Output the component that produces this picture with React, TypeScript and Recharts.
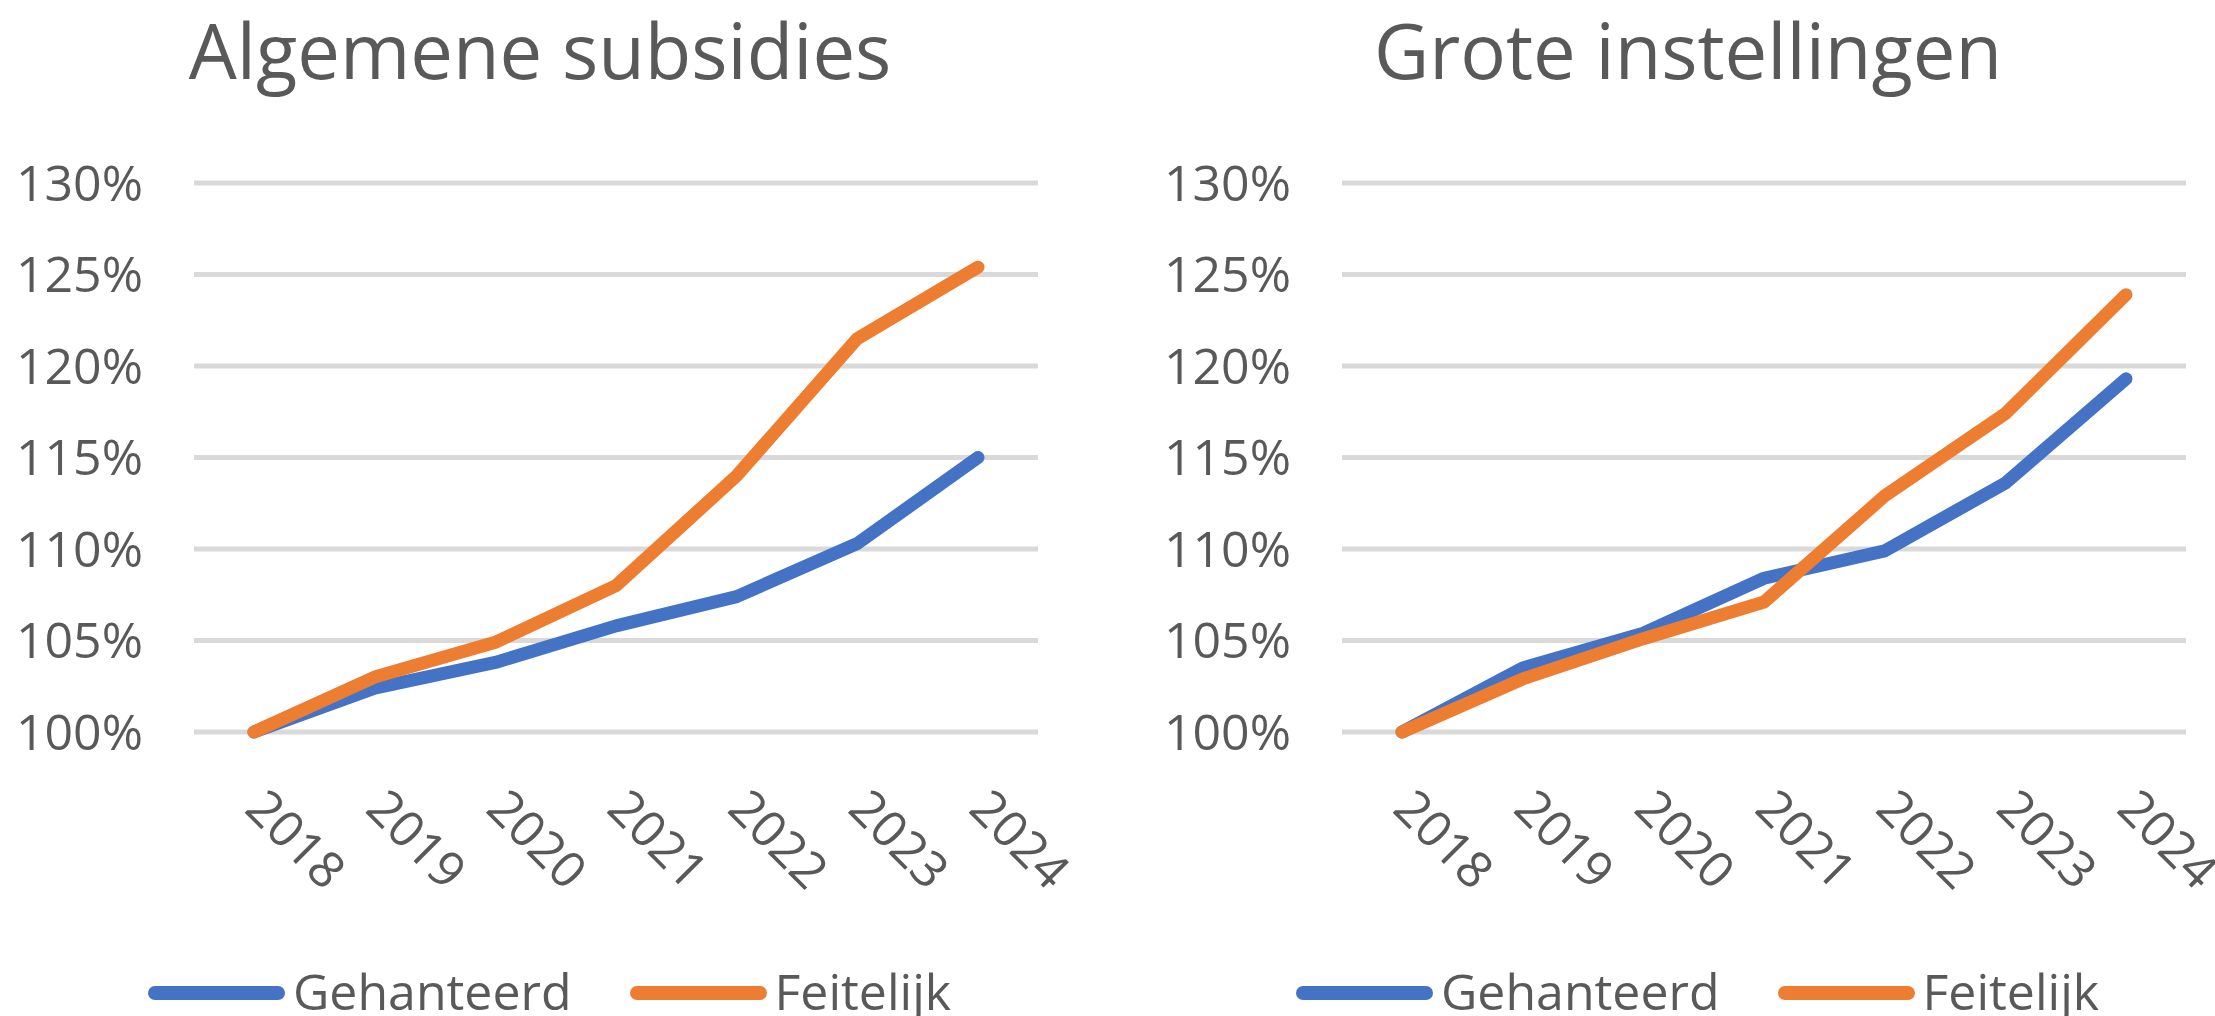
import { LineChart, Line, XAxis, YAxis, CartesianGrid, Legend } from 'recharts';

const years = ['2018', '2019', '2020', '2021', '2022', '2023', '2024'];

const algemeenGehanteerd = [100, 102.4, 103.8, 105.8, 107.4, 110.3, 115.0];
const algemeenFeitelijk = [100, 103.0, 104.9, 108.0, 114.0, 121.5, 125.4];

const groteGehanteerd = [100, 103.5, 105.4, 108.4, 109.9, 113.6, 119.3];
const groteFeitelijk = [100, 102.9, 105.1, 107.1, 112.9, 117.4, 123.9];

const yTicks = [100, 105, 110, 115, 120, 125, 130];
const legendOrder = ['Gehanteerd', 'Feitelijk'];

const BLUE = '#4472C4';
const ORANGE = '#ED7D31';
const TEXT = '#595959';
const FONT = '"Open Sans", sans-serif';

function YearTick(props: any) {
  const { x, y, payload } = props;
  const ax = x - 11;
  const ay = y + 79;
  return (
    <text
      x={ax}
      y={ay}
      transform={`rotate(45, ${ax}, ${ay})`}
      textAnchor="start"
      fontSize={50}
      fontFamily={FONT}
      fill={TEXT}
    >
      {payload.value}
    </text>
  );
}

function LegendContent(props: any) {
  const items = [...(props.payload || [])].sort(
    (a: any, b: any) => legendOrder.indexOf(a.value) - legendOrder.indexOf(b.value)
  );
  return (
    <div style={{ display: 'flex', alignItems: 'center', height: 50, fontFamily: FONT }}>
      {items.map((entry: any, i: number) => (
        <div key={i} style={{ display: 'flex', alignItems: 'center', marginRight: 58 }}>
          <span
            style={{
              display: 'inline-block',
              width: 137,
              height: 14,
              borderRadius: 7,
              background: entry.color,
              marginRight: 8,
              marginTop: 4,
            }}
          />
          <span style={{ fontSize: 50, lineHeight: '50px', color: TEXT, whiteSpace: 'nowrap' }}>
            {entry.value}
          </span>
        </div>
      ))}
    </div>
  );
}

interface PanelProps {
  left: number;
  title: string;
  gehanteerd: number[];
  feitelijk: number[];
}

function Panel({ left, title, gehanteerd, feitelijk }: PanelProps) {
  const data = years.map((year, i) => ({
    year,
    gehanteerd: gehanteerd[i],
    feitelijk: feitelijk[i],
  }));

  return (
    <div style={{ position: 'absolute', left, top: 0, width: 1100, height: 1016 }}>
      <div
        style={{
          position: 'absolute',
          left: 40,
          top: 12,
          width: 1000,
          textAlign: 'center',
          fontSize: 76,
          lineHeight: '76px',
          color: TEXT,
          fontFamily: FONT,
          whiteSpace: 'nowrap',
        }}
      >
        {title}
      </div>
      <LineChart
        width={1100}
        height={1016}
        data={data}
        margin={{ top: 183, right: 62, left: 0, bottom: 204 }}
      >
        <CartesianGrid vertical={false} stroke="#D9D9D9" strokeWidth={5} />
        <XAxis
          dataKey="year"
          axisLine={false}
          tickLine={false}
          tickSize={0}
          tickMargin={0}
          height={80}
          interval={0}
          padding={{ left: 60, right: 60 }}
          tick={YearTick}
        />
        <YAxis
          type="number"
          domain={[100, 130]}
          ticks={yTicks}
          tickFormatter={(v: number) => `${v}%`}
          axisLine={false}
          tickLine={false}
          tickSize={0}
          tickMargin={51}
          width={194}
          tick={{ fontSize: 50, fill: TEXT, fontFamily: FONT }}
        />
        <Legend
          layout="horizontal"
          verticalAlign="middle"
          align="center"
          content={LegendContent}
          wrapperStyle={{ top: 966, left: 148, width: 1000 }}
        />
        <Line
          type="linear"
          dataKey="gehanteerd"
          name="Gehanteerd"
          stroke={BLUE}
          strokeWidth={13}
          strokeLinecap="round"
          strokeLinejoin="round"
          dot={false}
          activeDot={false}
          isAnimationActive={false}
        />
        <Line
          type="linear"
          dataKey="feitelijk"
          name="Feitelijk"
          stroke={ORANGE}
          strokeWidth={13}
          strokeLinecap="round"
          strokeLinejoin="round"
          dot={false}
          activeDot={false}
          isAnimationActive={false}
        />
      </LineChart>
    </div>
  );
}

export default function App() {
  return (
    <div
      style={{
        position: 'fixed',
        left: 0,
        top: 0,
        width: 2215,
        height: 1016,
        overflow: 'hidden',
        background: '#fff',
      }}
    >
      <Panel
        left={0}
        title="Algemene subsidies"
        gehanteerd={algemeenGehanteerd}
        feitelijk={algemeenFeitelijk}
      />
      <Panel
        left={1148}
        title="Grote instellingen"
        gehanteerd={groteGehanteerd}
        feitelijk={groteFeitelijk}
      />
    </div>
  );
}
